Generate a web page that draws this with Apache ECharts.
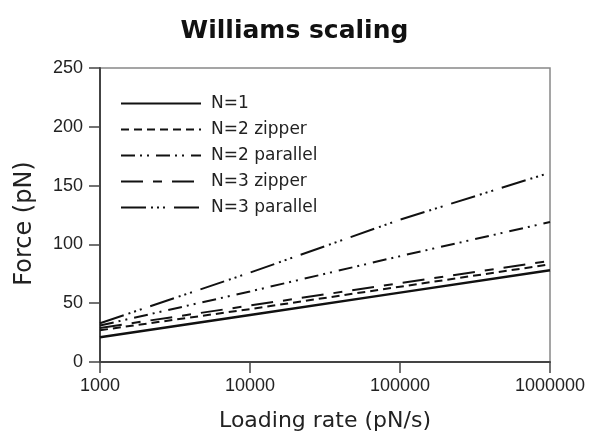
<!DOCTYPE html>
<html>
<head>
<meta charset="utf-8">
<title>Williams scaling</title>
<script src="https://cdn.jsdelivr.net/npm/echarts@6/dist/echarts.min.js"></script>
<style>
  html, body { margin: 0; padding: 0; background: #fff; }
  #chart { width: 589px; height: 438px; }
</style>
</head>
<body>
<div id="chart"></div>
<script>
// Loading rates (pN/s), one point per decade
const loadingRates = [1000, 10000, 100000, 1000000];

// Rupture force (pN) for each bond configuration
const forceN1 = [21, 40, 59, 78];
const forceN2Zipper = [27, 45, 64, 83];
const forceN2Parallel = [31, 60, 90, 119];
const forceN3Zipper = [29, 48, 67, 86];
const forceN3Parallel = [33, 76, 121, 161];

const seriesNames = ['N=1', 'N=2 zipper', 'N=2 parallel', 'N=3 zipper', 'N=3 parallel'];
const yTicks = [0, 50, 100, 150, 200, 250];

const ink = '#111';
const dashes = {
  'N=1': 'solid',
  'N=2 zipper': [8, 5],
  'N=2 parallel': [14, 5, 2, 5, 2, 7],
  'N=3 zipper': [22, 10, 9, 10],
  'N=3 parallel': [25, 5, 2, 4, 2, 4, 2, 9]
};
const widths = { 'N=1': 2.5 };

const values = [forceN1, forceN2Zipper, forceN2Parallel, forceN3Zipper, forceN3Parallel];

const chart = echarts.init(document.getElementById('chart'), null, { renderer: 'canvas' });

chart.setOption({
  animation: false,
  backgroundColor: '#fff',
  title: {
    text: 'Williams scaling',
    left: 'center',
    top: 14,
    textStyle: { fontFamily: 'DejaVu Sans', fontWeight: 'bold', fontSize: 25, color: '#111' }
  },
  legend: {
    orient: 'vertical',
    left: 115,
    top: 90,
    itemWidth: 80,
    itemHeight: 14,
    itemGap: 9,
    data: seriesNames,
    // line-only keys: hide the marker the line series adds by default
    itemStyle: { opacity: 0 },
    textStyle: { fontFamily: 'DejaVu Sans', fontSize: 17, lineHeight: 14, color: '#222', padding: [0, 0, 0, 5] }
  },
  grid: {
    left: 100, right: 39, top: 68, bottom: 76,
    show: true, borderColor: '#888', borderWidth: 1.5, backgroundColor: 'transparent'
  },
  xAxis: {
    type: 'log',
    logBase: 10,
    min: 1000,
    max: 1000000,
    name: 'Loading rate (pN/s)',
    nameLocation: 'middle',
    nameGap: 48,
    nameTextStyle: { fontFamily: 'DejaVu Sans', fontSize: 22, color: '#222' },
    axisLine: { lineStyle: { color: '#444', width: 2 } },
    axisTick: { inside: false, length: 11, lineStyle: { color: '#444', width: 1.5 } },
    minorTick: { show: false },
    splitLine: { show: false },
    axisLabel: {
      margin: 15,
      fontFamily: 'Liberation Sans', fontSize: 18, color: '#222',
      formatter: v => String(Math.round(v))
    }
  },
  yAxis: {
    type: 'value',
    min: yTicks[0],
    max: yTicks[yTicks.length - 1],
    interval: 50,
    name: 'Force (pN)',
    nameLocation: 'middle',
    nameGap: 63,
    nameTextStyle: { fontFamily: 'DejaVu Sans', fontSize: 24, color: '#222', padding: [0, 17, 0, 0] },
    axisLine: { show: true, lineStyle: { color: '#444', width: 2 } },
    axisTick: { show: true, inside: false, length: 11, lineStyle: { color: '#444', width: 1.5 } },
    splitLine: { show: false },
    axisLabel: { margin: 17, fontFamily: 'Liberation Sans', fontSize: 18, color: '#222' }
  },
  series: seriesNames.map((name, i) => ({
    name,
    type: 'line',
    data: loadingRates.map((x, j) => [x, values[i][j]]),
    showSymbol: false,
    symbol: 'none',
    lineStyle: { color: ink, width: widths[name] || 2, type: dashes[name] },
    itemStyle: { color: ink }
  }))
});
</script>
</body>
</html>
